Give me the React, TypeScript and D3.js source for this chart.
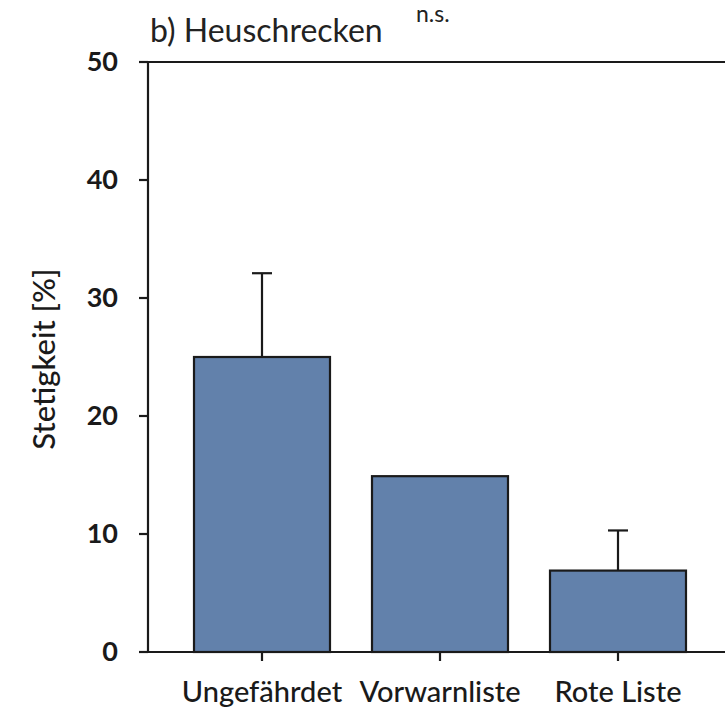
import React from "react";
import * as d3 from "d3";

const categories = ["Ungefährdet", "Vorwarnliste", "Rote Liste"];
const values = [25, 14.9, 6.9];
const errors = [7.1, 0, 3.4];
const yTicks = [0, 10, 20, 30, 40, 50];

export default function App() {
  const W = 725, H = 712;
  const left = 148, top = 62, bottom = 652;
  const y = d3.scaleLinear().domain([0, 50]).range([bottom, top]);
  const x = d3.scaleBand<string>().domain(categories).range([173, 707]).paddingInner(0.236).paddingOuter(0.118);
  const font = "Lato, 'Open Sans', sans-serif";
  return (
    <svg width={W} height={H} style={{ position: "absolute", left: 0, top: 0, background: "#fff" }}>
      <rect x={0} y={0} width={W} height={H} fill="#fff" />
      <text x={150} y={42} fontFamily={font} fontSize={32} fill="#222">b) Heuschrecken</text>
      <text x={416} y={22} fontFamily={font} fontSize={23} fill="#222">n.s.</text>
      {categories.map((c, i) => {
        const bx = x(c)!;
        const cx = bx + x.bandwidth() / 2;
        return (
          <g key={c}>
            {errors[i] > 0 && (
              <g stroke="#1a1a1a" strokeWidth={2.2}>
                <line x1={cx} x2={cx} y1={y(values[i])} y2={y(values[i] + errors[i])} />
                <line x1={cx - 10} x2={cx + 10} y1={y(values[i] + errors[i])} y2={y(values[i] + errors[i])} />
              </g>
            )}
            <rect x={bx} y={y(values[i])} width={x.bandwidth()} height={y(0) - y(values[i])}
              fill="#6281ab" stroke="#1a1a1a" strokeWidth={2.2} />
            <line x1={cx} x2={cx} y1={bottom} y2={bottom + 9} stroke="#1a1a1a" strokeWidth={2.2} />
            <text x={cx} y={702} textAnchor="middle" fontFamily={font} fontSize={29} fontWeight={500} fill="#1a1a1a">{c}</text>
          </g>
        );
      })}
      <line x1={left} x2={W} y1={top} y2={top} stroke="#1a1a1a" strokeWidth={2.2} />
      <line x1={left} x2={W} y1={bottom} y2={bottom} stroke="#1a1a1a" strokeWidth={2.2} />
      <line x1={left} x2={left} y1={top} y2={bottom} stroke="#1a1a1a" strokeWidth={2.2} />
      {yTicks.map(t => (
        <g key={t}>
          <line x1={left - 9} x2={left} y1={y(t)} y2={y(t)} stroke="#1a1a1a" strokeWidth={2.2} />
          <text x={left - 30} y={y(t)} dy="0.35em" textAnchor="end" fontFamily={font} fontSize={27} fontWeight={700} fill="#1a1a1a">{t}</text>
        </g>
      ))}
      <text transform={`translate(55,${(top + bottom) / 2 + 2}) rotate(-90)`} textAnchor="middle" fontFamily={font} fontSize={31} fontWeight={500} fill="#1a1a1a">Stetigkeit [%]</text>
    </svg>
  );
}
